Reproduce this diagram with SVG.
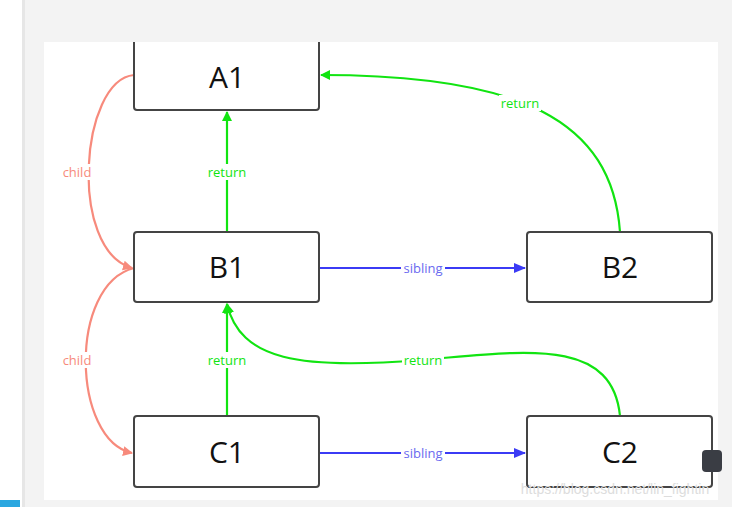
<svg xmlns="http://www.w3.org/2000/svg" width="732" height="507" viewBox="0 0 732 507">
<style>
.n rect{fill:#fff;stroke:#444;stroke-width:2}
.n text{font-family:"Open Sans","DejaVu Sans",sans-serif;font-size:30px;fill:#111;text-anchor:middle}
.c path{fill:none;stroke-width:2.2}
.l{font-family:"Open Sans","DejaVu Sans",sans-serif;font-size:13px;text-anchor:middle}
.lb{fill:#fff}
</style>
<defs>
<marker id="mg" markerWidth="10" markerHeight="10" refX="9" refY="5" orient="auto" markerUnits="userSpaceOnUse" viewBox="0 0 10 10"><path d="M0,0 L10,5 L0,10 Z" fill="#11e411"/></marker>
<marker id="mr" markerWidth="10" markerHeight="10" refX="9" refY="5" orient="auto" markerUnits="userSpaceOnUse" viewBox="0 0 10 10"><path d="M0,0 L10,5 L0,10 Z" fill="#f78a7c"/></marker>
<marker id="mb" markerWidth="12" markerHeight="10" refX="11" refY="5" orient="auto" markerUnits="userSpaceOnUse" viewBox="0 0 12 10"><path d="M0,0 L12,5 L0,10 Z" fill="#3b3bf5"/></marker>
</defs>
<rect width="732" height="507" fill="#f3f3f3"/>
<rect x="0" y="0" width="22" height="507" fill="#fff"/>
<rect x="22" y="0" width="3" height="507" fill="#e6e6e6"/>
<rect x="0" y="500" width="20" height="7" fill="#2aa7e0"/>
<rect x="44" y="42" width="674" height="458" fill="#fff"/>
<g class="c">
<path d="M134,75 C80,80 68,250 132,268" stroke="#f78a7c" marker-end="url(#mr)"/>
<path d="M134,268 C68,285 72,440 132,453" stroke="#f78a7c" marker-end="url(#mr)"/>
<path d="M227,232 L227,112" stroke="#11e411" marker-end="url(#mg)"/>
<path d="M227,416 L227,304" stroke="#11e411" marker-end="url(#mg)"/>
<path d="M319,268 L525,268" stroke="#3b3bf5" marker-end="url(#mb)"/>
<path d="M319,453 L525,453" stroke="#3b3bf5" marker-end="url(#mb)"/>
<path d="M620,232 C612,120 520,75 321,75" stroke="#11e411" marker-end="url(#mg)"/>
<path d="M620,416 C612,335 520,352 420,360 C300,370 240,360 227,304" stroke="#11e411" marker-end="url(#mg)"/>
<rect class="lb" x="60" y="164" width="34" height="16"/><text class="l" x="77" y="177" fill="#f78a7c">child</text>
<rect class="lb" x="60" y="352" width="34" height="16"/><text class="l" x="77" y="365" fill="#f78a7c">child</text>
<rect class="lb" x="206" y="164" width="42" height="16"/><text class="l" x="227" y="177" fill="#11e411">return</text>
<rect class="lb" x="206" y="352" width="42" height="16"/><text class="l" x="227" y="365" fill="#11e411">return</text>
<rect class="lb" x="499" y="95" width="42" height="16"/><text class="l" x="520" y="108" fill="#11e411">return</text>
<rect class="lb" x="402" y="352" width="42" height="16"/><text class="l" x="423" y="365" fill="#11e411">return</text>
<rect class="lb" x="401" y="260" width="44" height="16"/><text class="l" x="423" y="273" fill="#6a6af0">sibling</text>
<rect class="lb" x="401" y="445" width="44" height="16"/><text class="l" x="423" y="458" fill="#6a6af0">sibling</text>
</g>
<g id="A1" class="n"><rect x="134" y="30" width="185" height="80" rx="3"/><text x="227" y="88">A1</text></g>
<rect x="44" y="0" width="674" height="42" fill="#f3f3f3"/>
<g id="B1" class="n"><rect x="134" y="232" width="185" height="70" rx="3"/><text x="227" y="278">B1</text></g>
<g id="B2" class="n"><rect x="527" y="232" width="185" height="70" rx="3"/><text x="620" y="278">B2</text></g>
<g id="C1" class="n"><rect x="134" y="416" width="185" height="71" rx="3"/><text x="227" y="463">C1</text></g>
<g id="C2" class="n"><rect x="527" y="416" width="185" height="71" rx="3"/><text x="620" y="463">C2</text></g>
<rect x="702" y="450" width="20" height="22" rx="4" fill="#3a3d44"/>
<text x="615" y="494" font-family="Liberation Sans,sans-serif" font-size="14" fill="#ddd" text-anchor="middle">https://blog.csdn.net/lin_fightin</text>
</svg>
